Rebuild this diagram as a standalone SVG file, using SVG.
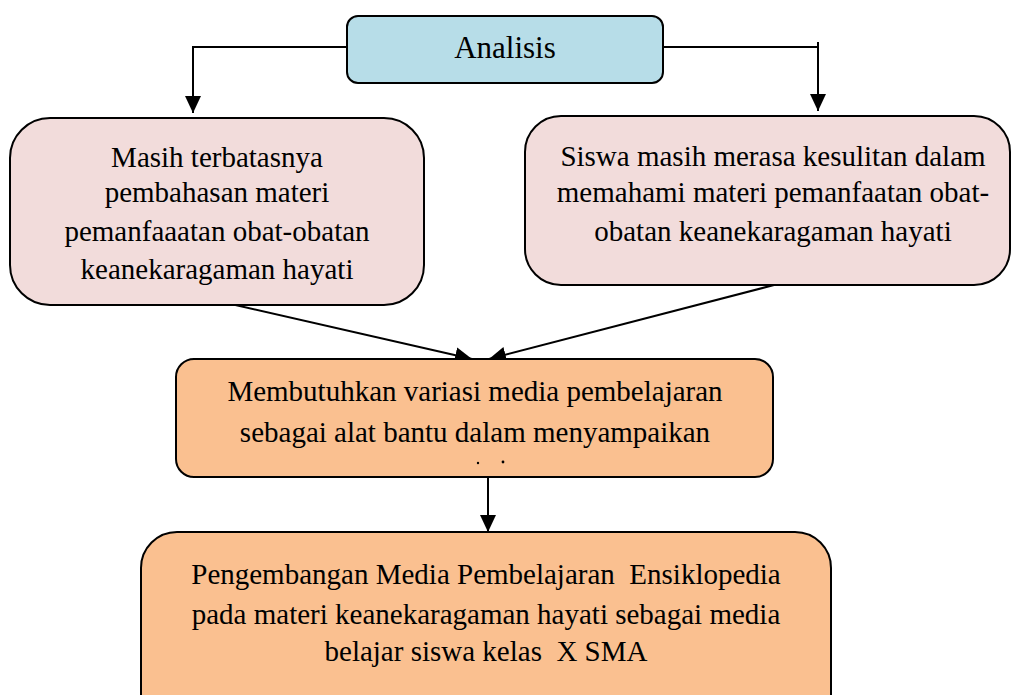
<svg xmlns="http://www.w3.org/2000/svg" width="1012" height="695" viewBox="0 0 1012 695">
<style>
.box{stroke:#000;stroke-width:2}
.blue{fill:#b7dde8}
.pink{fill:#f2dcdb}
.orange{fill:#fac090}
text{font-family:"Liberation Serif","Times New Roman",serif;fill:#000;text-anchor:middle;font-size:29px;white-space:pre}
.con{fill:none;stroke:#000;stroke-width:2}
</style>
<defs>
<marker id="ah" markerWidth="17" markerHeight="16" refX="17" refY="8" orient="auto" markerUnits="userSpaceOnUse">
<path d="M0,0 L17,8 L0,16 Z" fill="#000"/>
</marker>
</defs>
<rect width="1012" height="695" fill="#fff"/>
<g id="connectors">
<path class="con" d="M347,47 H193 V113" marker-end="url(#ah)"/>
<path class="con" d="M663,47 H818 V111" marker-end="url(#ah)"/>
<line class="con" x1="818" y1="42" x2="818" y2="47"/>
<line class="con" x1="231" y1="304" x2="472" y2="359" marker-end="url(#ah)"/>
<line class="con" x1="774" y1="285" x2="489" y2="359" marker-end="url(#ah)"/>
<line class="con" x1="488" y1="477" x2="488" y2="532" marker-end="url(#ah)"/>
</g>
<g id="analisis">
<rect class="box blue" x="347" y="16" width="316" height="67" rx="11"/>
<text x="505" y="58" style="font-size:31px">Analisis</text>
</g>
<g id="masalah1">
<rect class="box pink" x="10" y="118" width="414" height="187" rx="40"/>
<text x="217" y="167">Masih terbatasnya</text>
<text x="217" y="202">pembahasan materi</text>
<text x="217" y="241">pemanfaaatan obat-obatan</text>
<text x="217" y="279">keanekaragaman hayati</text>
</g>
<g id="masalah2">
<rect class="box pink" x="525" y="116" width="485" height="169" rx="36"/>
<text x="773" y="166">Siswa masih merasa kesulitan dalam</text>
<text x="773" y="202">memahami materi pemanfaatan obat-</text>
<text x="773" y="241">obatan keanekaragaman hayati</text>
</g>
<g id="kebutuhan">
<rect class="box orange" x="176" y="359" width="597" height="118" rx="18"/>
<text x="475" y="401">Membutuhkan variasi media pembelajaran</text>
<text x="475" y="442">sebagai alat bantu dalam menyampaikan</text>
<circle cx="478" cy="463" r="1.2" fill="#000"/>
<circle cx="503" cy="462" r="1.4" fill="#000"/>
</g>
<g id="pengembangan">
<rect class="box orange" x="141" y="532" width="690" height="200" rx="36"/>
<text x="486" y="584">Pengembangan Media Pembelajaran  Ensiklopedia</text>
<text x="486" y="624">pada materi keanekaragaman hayati sebagai media</text>
<text x="486" y="661">belajar siswa kelas  X SMA</text>
</g>
</svg>
